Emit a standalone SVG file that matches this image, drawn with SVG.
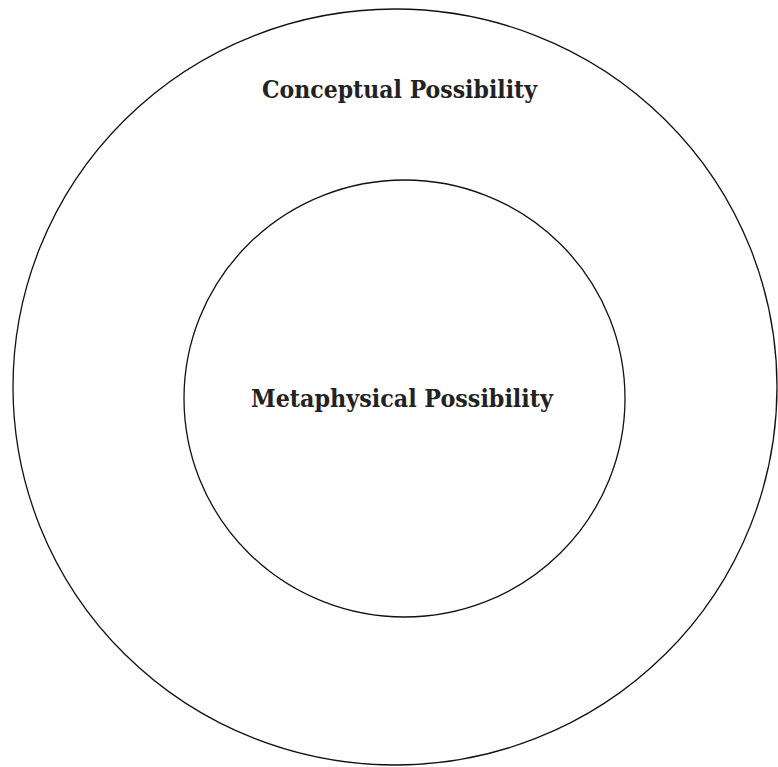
<svg xmlns="http://www.w3.org/2000/svg" width="778" height="767" viewBox="0 0 778 767">
<style>
.ring{fill:none;stroke:#111;stroke-width:1.3}
.lbl{font-family:"DejaVu Serif","Liberation Serif",serif;font-weight:bold;font-size:24px;fill:#222;text-anchor:middle}
</style>
<rect width="778" height="767" fill="#fff"/>
<g id="conceptual">
<ellipse class="ring" cx="395" cy="387" rx="382" ry="378"/>
<text class="lbl" x="399.5" y="98" textLength="275" lengthAdjust="spacingAndGlyphs">Conceptual Possibility</text>
</g>
<g id="metaphysical">
<ellipse class="ring" cx="404.5" cy="398.5" rx="220.5" ry="218.5"/>
<text class="lbl" x="402" y="407" textLength="302" lengthAdjust="spacingAndGlyphs">Metaphysical Possibility</text>
</g>
<g id="connectors"></g>
</svg>
